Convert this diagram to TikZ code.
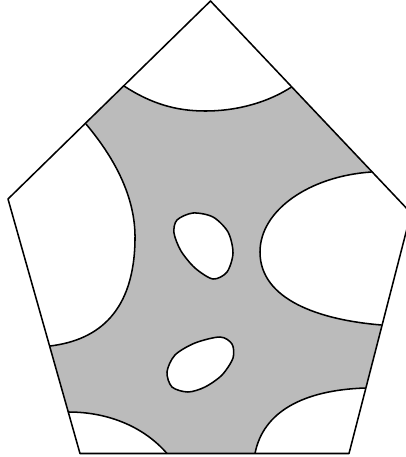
\documentclass[tikz,border=0pt]{standalone}
\usepackage{xcolor}
\usepackage{tikz}
\definecolor{regiongray}{RGB}{187,187,187}

\begin{document}
\begin{tikzpicture}[x=0.75pt,y=-0.75pt,line width=1.15pt,line join=round,
  hole/.style={draw,fill=white},corner/.style={fill=white}]
\useasboundingbox (0,0) rectangle (405,457);
\coordinate (t) at (210.5,1);
\coordinate (r) at (411,213);
\coordinate (br) at (349,453.5);
\coordinate (bl) at (80,453.5);
\coordinate (l) at (8,199);
\fill[regiongray] (t) -- (r) -- (br) -- (bl) -- (l) -- cycle;
\begin{scope}
\clip (t) -- (r) -- (br) -- (bl) -- (l) -- cycle;
% white corners
\fill[corner] (124,86) .. controls (150,103) and (175,111) .. (205,111) .. controls (240,111) and (270,101) .. (291.5,87) -- (291.5,0) -- (124,0) -- cycle;
\fill[corner] (86,124) .. controls (112,155) and (136,195) .. (135,240) .. controls (134,310) and (100,340) .. (50,346) -- (0,346) -- (0,124) -- cycle;
\fill[corner] (371.5,172) .. controls (310,176) and (260,210) .. (260,252) .. controls (260,300) and (320,320) .. (381.5,325) -- (420,325) -- (420,172) -- cycle;
\fill[corner] (68.5,412) .. controls (110,412) and (145,428) .. (167,453.5) -- (0,457) -- (0,412) -- cycle;
\fill[corner] (365.5,388) .. controls (303,390) and (263,412) .. (255,453.5) -- (420,457) -- (420,388) -- cycle;
\end{scope}
\draw (124,86) .. controls (150,103) and (175,111) .. (205,111) .. controls (240,111) and (270,101) .. (291.5,87);
\draw (86,124) .. controls (112,155) and (136,195) .. (135,240) .. controls (134,310) and (100,340) .. (50,346);
\draw (371.5,172) .. controls (310,176) and (260,210) .. (260,252) .. controls (260,300) and (320,320) .. (381.5,325);
\draw (68.5,412) .. controls (110,412) and (145,428) .. (167,453.5);
\draw (365.5,388) .. controls (303,390) and (263,412) .. (255,453.5);
% holes
\draw[hole] plot[smooth cycle] coordinates {(193,213) (177,220) (174,233) (181,251) (195,268) (213,279) (227,272) (233,253) (228,232) (213,217)};
\draw[hole] plot[smooth cycle] coordinates {(220,337) (232,344) (233,358) (222,375) (205,387) (188,392) (172,387) (167,372) (175,355) (195,343)};
\draw (t) -- (r) -- (br) -- (bl) -- (l) -- cycle;
\end{tikzpicture}
\end{document}
